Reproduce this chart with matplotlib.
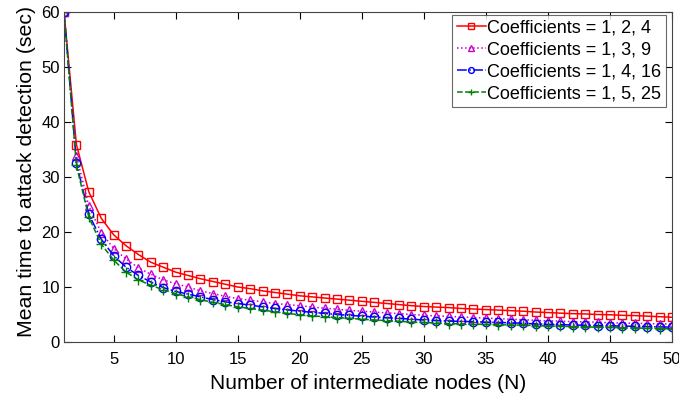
import matplotlib
matplotlib.use("Agg")
import matplotlib.pyplot as plt

plt.rcParams['font.family'] = ['Liberation Sans', 'DejaVu Sans']

N = list(range(1, 51))
red = [60, 35.9, 27.3, 22.5, 19.5, 17.5, 15.9, 14.5, 13.6, 12.7,
       12.1, 11.5, 11.0, 10.5, 10.0, 9.7, 9.3, 9.0, 8.7, 8.4,
       8.2, 8.0, 7.8, 7.6, 7.4, 7.2, 7.0, 6.8, 6.6, 6.45,
       6.35, 6.25, 6.1, 6.0, 5.9, 5.8, 5.7, 5.6, 5.45, 5.35,
       5.25, 5.15, 5.1, 5.0, 4.95, 4.85, 4.8, 4.7, 4.6, 4.5]
magenta = [60, 33.9, 24.7, 19.9, 17.0, 15.1, 13.5, 12.3, 11.3, 10.6,
           10.0, 9.3, 8.8, 8.3, 7.9, 7.6, 7.3, 7.0, 6.8, 6.6,
           6.35, 6.15, 5.95, 5.75, 5.6, 5.45, 5.3, 5.15, 5.0, 4.85,
           4.75, 4.65, 4.55, 4.45, 4.35, 4.25, 4.15, 4.05, 3.95, 3.85,
           3.8, 3.7, 3.65, 3.6, 3.5, 3.45, 3.4, 3.35, 3.3, 3.25]
blue = [60, 32.6, 23.2, 18.7, 15.7, 13.6, 12.1, 10.9, 9.9, 9.2,
        8.7, 8.2, 7.7, 7.3, 7.0, 6.7, 6.4, 6.1, 5.85, 5.6,
        5.4, 5.2, 5.0, 4.85, 4.7, 4.55, 4.4, 4.3, 4.15, 4.0,
        3.9, 3.8, 3.75, 3.7, 3.6, 3.55, 3.5, 3.4, 3.3, 3.2,
        3.15, 3.1, 3.05, 3.0, 2.95, 2.9, 2.85, 2.8, 2.75, 2.7]
green = [60, 32.1, 22.7, 17.8, 14.9, 12.7, 11.3, 10.3, 9.5, 8.8,
         8.2, 7.7, 7.2, 6.8, 6.4, 6.1, 5.8, 5.5, 5.2, 4.95,
         4.75, 4.6, 4.45, 4.3, 4.15, 4.0, 3.9, 3.75, 3.65, 3.55,
         3.45, 3.35, 3.3, 3.25, 3.2, 3.15, 3.1, 3.05, 3.0, 2.9,
         2.85, 2.8, 2.75, 2.7, 2.65, 2.6, 2.55, 2.5, 2.45, 2.4]
labels = ['Coefficients = 1, 2, 4', 'Coefficients = 1, 3, 9',
          'Coefficients = 1, 4, 16', 'Coefficients = 1, 5, 25']
xticks = [5, 10, 15, 20, 25, 30, 35, 40, 45, 50]
yticks = [0, 10, 20, 30, 40, 50, 60]

fig = plt.figure(figsize=(6.79, 3.98), dpi=100)
ax = fig.add_axes([64/679, 56/398, 608/679, 330/398])

ax.plot(N, red, '-', color='#ff0000', marker='s', mfc='none', ms=6, lw=1.1, label=labels[0])
ax.plot(N, magenta, ':', color='#cc00cc', marker='^', mfc='none', ms=6, lw=1.1, label=labels[1])
ax.plot(N, blue, '-.', color='#0000ff', marker='o', mfc='none', ms=6, lw=1.1, label=labels[2])
ax.plot(N, green, '--', color='#008000', marker='+', ms=7, lw=1.1, label=labels[3])

ax.set_xlim(1, 50)
ax.set_ylim(0, 60)
ax.set_xticks(xticks)
ax.set_yticks(yticks)
ax.tick_params(direction='in', top=True, right=True, labelsize=12, length=5, width=0.8)
ax.tick_params(axis='x', pad=7)
ax.tick_params(axis='y', pad=3)
for s in ax.spines.values():
    s.set_linewidth(0.8)
    s.set_color('#444444')
ax.set_xlabel('Number of intermediate nodes (N)', fontsize=15, labelpad=5)
ax.set_ylabel('Mean time to attack detection (sec)', fontsize=15.3, labelpad=4, y=0.517)

leg = ax.legend(loc='upper right', bbox_to_anchor=(1 - 6/608, 1 - 3/330),
                fontsize=13, frameon=True, fancybox=False, markerscale=0.7,
                edgecolor='#444444', borderpad=0.25, labelspacing=0.28,
                handlelength=1.6, handletextpad=0.1, borderaxespad=0.0)
leg.get_frame().set_linewidth(0.8)

fig.savefig('out.png', dpi=100)
